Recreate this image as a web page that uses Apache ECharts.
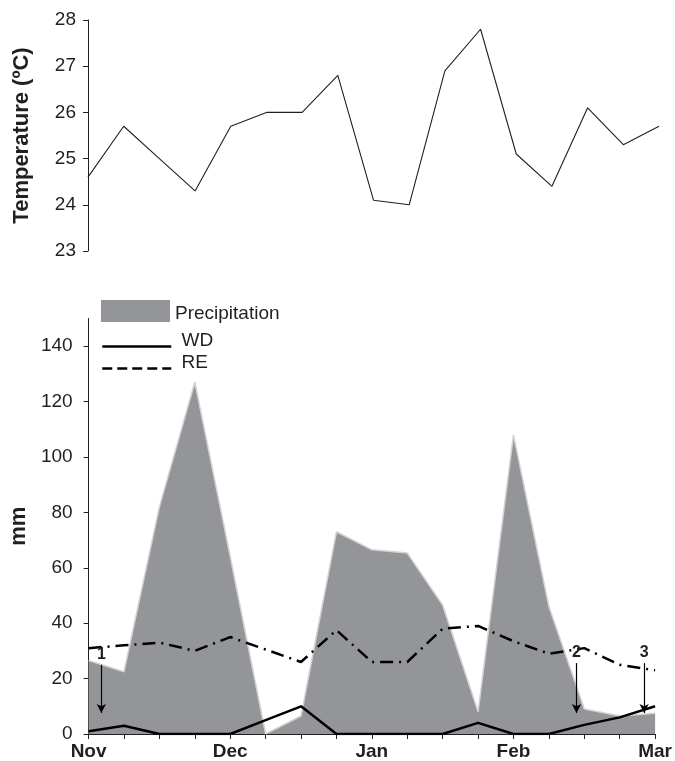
<!DOCTYPE html>
<html lang="en">
<head>
    <meta charset="utf-8">
    <title>Temperature and precipitation</title>
    <script src="https://cdn.jsdelivr.net/npm/echarts@6/dist/echarts.min.js"></script>
    <style>
        body { margin: 0; background: #fff; }
        #main { width: 675px; height: 761px; }
    </style>
</head>
<body>
<div id="main"></div>
<script type="text/javascript">
    // tick labels along the bottom (one per tick, 17 ticks)
    var tickLabels = ['Nov', '', '', '', 'Dec', '', '', '', 'Jan', '', '', '', 'Feb', '', '', '', 'Mar'];
    // temperature (ºC), top panel
    var tempValues = [24.6, 25.7, 25.0, 24.3, 25.7, 26.0, 26.0, 26.8, 24.1, 24.0, 26.9, 27.8, 25.1, 24.4, 26.1, 25.3, 25.7];
    // mm, bottom panel
    var precipValues = [26.5, 22.5, 82, 127, 64, 0, 6.5, 73, 66.5, 65.3, 46.5, 8, 108, 46, 9, 6.5, 7.5];
    var wdValues = [1, 3, 0, 0, 0, 5, 10, 0, 0, 0, 0, 4, 0, 0, 3.3, 6, 10];
    var reValues = [31, 32, 33, 30, 35, 30.5, 26, 37.5, 26, 26, 38, 39, 33.5, 29, 31, 25, 23];
    // numbered arrows: [label, x position (tick units), from, to]
    var arrows = [['1', 0.36, 25, 7.6], ['2', 13.78, 25.6, 7.6], ['3', 15.69, 25.6, 7.6]];
    var mmTicks = [0, 20, 40, 60, 80, 100, 120, 140];

    function pairs(arr) {
        return arr.map(function (v, i) { return [i, v]; });
    }

    var ink = '#231f20';
    var font = 'Liberation Sans, Arial, sans-serif';

    // legend text nudged up/down with an empty spacer line
    function legendText(shift) {
        return {
            fontSize: 19, color: ink, fontFamily: font,
            rich: {
                t: {fontSize: 19, color: ink, fontFamily: font},
                s: {height: Math.abs(shift), fontSize: 1}
            }
        };
    }
    function textUp(name) { return '{t| ' + name + '}\n{s|}'; }
    function textDown(name) { return '{s|}\n{t|' + name + '}'; }

    var chart = echarts.init(document.getElementById('main'));
    chart.setOption({
        animation: false,
        textStyle: {fontFamily: font, color: ink},
        grid: [
            {left: 88, right: 16, top: 20, bottom: 510},
            {left: 88, right: 10, top: 318.5, bottom: 27}
        ],
        legend: [
            {
                data: ['Precipitation'], left: 101, top: 300, padding: 0,
                itemWidth: 69, itemHeight: 22, icon: 'rect',
                formatter: textDown,
                textStyle: legendText(6)
            },
            {
                data: ['WD'], left: 101, top: 331, padding: 0,
                itemWidth: 69, itemHeight: 30,
                itemStyle: {opacity: 0},
                lineStyle: {width: 2.5, color: '#000', type: 'solid'},
                formatter: textUp,
                textStyle: legendText(12)
            },
            {
                data: ['RE'], left: 101, top: 353, padding: 0,
                itemWidth: 69, itemHeight: 30,
                itemStyle: {opacity: 0},
                lineStyle: {width: 2.5, color: '#000', type: 'dashed'},
                formatter: textUp,
                textStyle: legendText(12)
            }
        ],
        xAxis: [
            {gridIndex: 0, type: 'value', min: 0, max: 16, show: false},
            {
                gridIndex: 1, type: 'value', min: 0, max: 16, interval: 1,
                splitLine: {show: false},
                axisLine: {lineStyle: {color: ink, width: 1}},
                axisTick: {length: 5, lineStyle: {color: ink}},
                axisLabel: {
                    margin: 8, fontSize: 19, fontWeight: 'bold', color: ink,
                    formatter: function (v) { return tickLabels[v] || ''; }
                }
            }
        ],
        yAxis: [
            {
                gridIndex: 0, type: 'value', min: 23, max: 28, interval: 1,
                name: 'Temperature (ºC)', nameLocation: 'middle', nameGap: 55,
                nameTextStyle: {fontSize: 22, fontWeight: 'bold', color: ink},
                splitLine: {show: false},
                axisLine: {show: true, lineStyle: {color: ink}},
                axisTick: {show: true, length: 5, lineStyle: {color: ink}},
                axisLabel: {margin: 12, fontSize: 19, color: ink}
            },
            {
                gridIndex: 1, type: 'value', min: 0, max: 150, interval: 10,
                name: 'mm', nameLocation: 'middle', nameGap: 45,
                nameTextStyle: {fontSize: 22, fontWeight: 'bold', color: ink},
                splitLine: {show: false},
                axisLine: {show: true, lineStyle: {color: ink}},
                axisTick: {show: true, length: 5, lineStyle: {color: ink}, customValues: mmTicks},
                axisLabel: {margin: 16, fontSize: 19, color: ink, customValues: mmTicks}
            }
        ],
        series: [
            {
                name: 'Temperature', type: 'line', xAxisIndex: 0, yAxisIndex: 0,
                data: pairs(tempValues), symbol: 'none',
                lineStyle: {color: ink, width: 1.1}
            },
            {
                name: 'Precipitation', type: 'line', xAxisIndex: 1, yAxisIndex: 1,
                data: pairs(precipValues), symbol: 'none', z: 1,
                itemStyle: {color: '#939598'},
                lineStyle: {color: '#d2d2d2', width: 1.5},
                areaStyle: {color: '#939598', opacity: 1}
            },
            {
                name: 'WD', type: 'line', xAxisIndex: 1, yAxisIndex: 1,
                data: pairs(wdValues), symbol: 'none', z: 3,
                itemStyle: {color: '#000'},
                lineStyle: {color: '#000', width: 2.5},
                markLine: {
                    silent: true,
                    symbol: ['none', 'arrow'], symbolSize: [7, 9],
                    lineStyle: {color: '#000', width: 1.2, type: 'solid'},
                    label: {
                        show: true, position: 'start', distance: 2,
                        fontSize: 16, fontWeight: 'bold', color: ink,
                        formatter: function (p) { return p.name; }
                    },
                    data: arrows.map(function (a) {
                        return [{name: a[0], coord: [a[1], a[2]]}, {coord: [a[1], a[3]]}];
                    })
                }
            },
            {
                name: 'RE', type: 'line', xAxisIndex: 1, yAxisIndex: 1,
                data: pairs(reValues), symbol: 'none', z: 3,
                itemStyle: {color: '#000'},
                lineStyle: {color: '#000', width: 2.5, type: [13, 6, 2, 6]}
            }
        ]
    });
</script>
</body>
</html>
